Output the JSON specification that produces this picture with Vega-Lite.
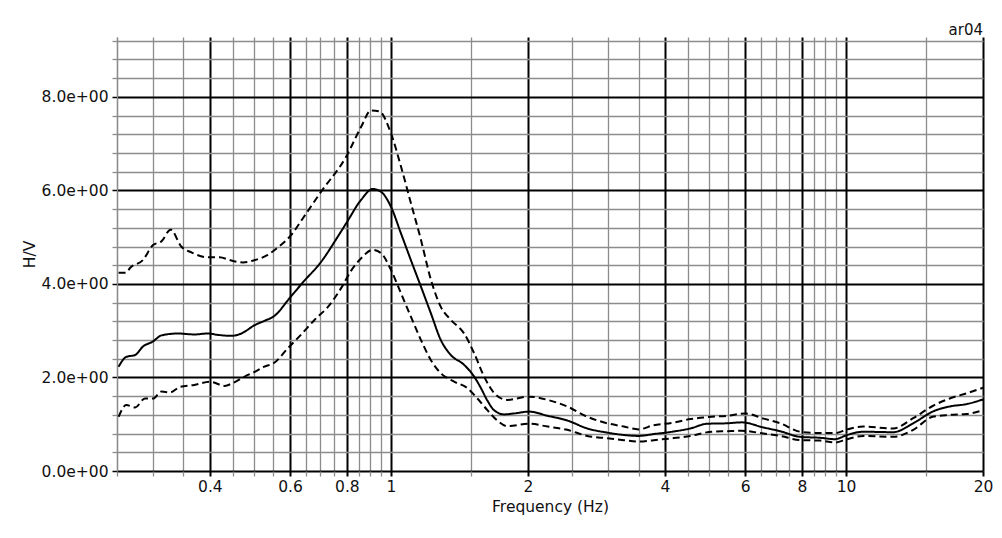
{
  "$schema": "https://vega.github.io/schema/vega-lite/v6.json",
  "width": 866,
  "height": 434,
  "autosize": {"type": "none"},
  "padding": {"left": 117, "top": 37, "right": 19, "bottom": 67},
  "background": "white",
  "title": {"text": "ar04", "anchor": "end", "frame": "group", "fontSize": 15, "fontWeight": "normal", "font": "DejaVu Sans", "color": "#111111", "baseline": "alphabetic", "offset": 2, "dy": 18},
  "config": {
    "view": {"stroke": null},
    "axis": {"labelFont": "DejaVu Sans", "titleFont": "DejaVu Sans", "labelFontSize": 15.5, "titleFontSize": 15.5, "titleFontWeight": "normal", "labelColor": "#111111", "titleColor": "#111111"}
  },
  "data": {"values": [
    {"s": "mean", "f": 0.252, "v": 2.23}, {"s": "mean", "f": 0.262, "v": 2.44}, {"s": "mean", "f": 0.274, "v": 2.48}, {"s": "mean", "f": 0.285, "v": 2.66},
    {"s": "mean", "f": 0.300, "v": 2.77}, {"s": "mean", "f": 0.313, "v": 2.90}, {"s": "mean", "f": 0.340, "v": 2.94}, {"s": "mean", "f": 0.370, "v": 2.92},
    {"s": "mean", "f": 0.396, "v": 2.94}, {"s": "mean", "f": 0.417, "v": 2.91}, {"s": "mean", "f": 0.446, "v": 2.89}, {"s": "mean", "f": 0.469, "v": 2.94},
    {"s": "mean", "f": 0.502, "v": 3.12}, {"s": "mean", "f": 0.527, "v": 3.21}, {"s": "mean", "f": 0.555, "v": 3.32}, {"s": "mean", "f": 0.598, "v": 3.69},
    {"s": "mean", "f": 0.640, "v": 4.03}, {"s": "mean", "f": 0.702, "v": 4.47}, {"s": "mean", "f": 0.764, "v": 5.01}, {"s": "mean", "f": 0.800, "v": 5.32},
    {"s": "mean", "f": 0.860, "v": 5.80}, {"s": "mean", "f": 0.912, "v": 6.03}, {"s": "mean", "f": 0.951, "v": 5.97}, {"s": "mean", "f": 1.000, "v": 5.65},
    {"s": "mean", "f": 1.052, "v": 5.08}, {"s": "mean", "f": 1.106, "v": 4.51}, {"s": "mean", "f": 1.164, "v": 3.94}, {"s": "mean", "f": 1.224, "v": 3.37},
    {"s": "mean", "f": 1.287, "v": 2.80}, {"s": "mean", "f": 1.354, "v": 2.48}, {"s": "mean", "f": 1.448, "v": 2.27}, {"s": "mean", "f": 1.523, "v": 2.02},
    {"s": "mean", "f": 1.575, "v": 1.78}, {"s": "mean", "f": 1.630, "v": 1.50}, {"s": "mean", "f": 1.685, "v": 1.30}, {"s": "mean", "f": 1.772, "v": 1.21},
    {"s": "mean", "f": 1.863, "v": 1.23}, {"s": "mean", "f": 2.01, "v": 1.27}, {"s": "mean", "f": 2.21, "v": 1.18}, {"s": "mean", "f": 2.44, "v": 1.08},
    {"s": "mean", "f": 2.70, "v": 0.91}, {"s": "mean", "f": 2.99, "v": 0.82}, {"s": "mean", "f": 3.25, "v": 0.77}, {"s": "mean", "f": 3.50, "v": 0.75},
    {"s": "mean", "f": 3.78, "v": 0.79}, {"s": "mean", "f": 4.15, "v": 0.84}, {"s": "mean", "f": 4.55, "v": 0.91}, {"s": "mean", "f": 4.95, "v": 1.01},
    {"s": "mean", "f": 5.47, "v": 1.02}, {"s": "mean", "f": 5.90, "v": 1.04}, {"s": "mean", "f": 6.59, "v": 0.93}, {"s": "mean", "f": 7.17, "v": 0.85},
    {"s": "mean", "f": 7.93, "v": 0.73}, {"s": "mean", "f": 8.77, "v": 0.71}, {"s": "mean", "f": 9.45, "v": 0.68}, {"s": "mean", "f": 10.06, "v": 0.77},
    {"s": "mean", "f": 10.9, "v": 0.84}, {"s": "mean", "f": 12.7, "v": 0.83}, {"s": "mean", "f": 14.05, "v": 1.02}, {"s": "mean", "f": 15.5, "v": 1.27},
    {"s": "mean", "f": 16.9, "v": 1.38}, {"s": "mean", "f": 18.4, "v": 1.43}, {"s": "mean", "f": 20, "v": 1.53},

    {"s": "upper", "f": 0.252, "v": 4.24}, {"s": "upper", "f": 0.262, "v": 4.24}, {"s": "upper", "f": 0.267, "v": 4.34}, {"s": "upper", "f": 0.285, "v": 4.51},
    {"s": "upper", "f": 0.300, "v": 4.83}, {"s": "upper", "f": 0.313, "v": 4.91}, {"s": "upper", "f": 0.328, "v": 5.16}, {"s": "upper", "f": 0.346, "v": 4.80},
    {"s": "upper", "f": 0.365, "v": 4.67}, {"s": "upper", "f": 0.396, "v": 4.57}, {"s": "upper", "f": 0.420, "v": 4.57}, {"s": "upper", "f": 0.446, "v": 4.50},
    {"s": "upper", "f": 0.473, "v": 4.46}, {"s": "upper", "f": 0.502, "v": 4.51}, {"s": "upper", "f": 0.536, "v": 4.62}, {"s": "upper", "f": 0.564, "v": 4.78},
    {"s": "upper", "f": 0.604, "v": 5.05}, {"s": "upper", "f": 0.640, "v": 5.40}, {"s": "upper", "f": 0.702, "v": 5.97}, {"s": "upper", "f": 0.797, "v": 6.72},
    {"s": "upper", "f": 0.860, "v": 7.36}, {"s": "upper", "f": 0.904, "v": 7.71}, {"s": "upper", "f": 0.943, "v": 7.69}, {"s": "upper", "f": 1.000, "v": 7.22},
    {"s": "upper", "f": 1.052, "v": 6.51}, {"s": "upper", "f": 1.106, "v": 5.73}, {"s": "upper", "f": 1.164, "v": 4.94}, {"s": "upper", "f": 1.224, "v": 4.09},
    {"s": "upper", "f": 1.287, "v": 3.51}, {"s": "upper", "f": 1.354, "v": 3.23}, {"s": "upper", "f": 1.448, "v": 2.94}, {"s": "upper", "f": 1.523, "v": 2.52},
    {"s": "upper", "f": 1.602, "v": 2.02}, {"s": "upper", "f": 1.685, "v": 1.67}, {"s": "upper", "f": 1.80, "v": 1.52}, {"s": "upper", "f": 2.01, "v": 1.59},
    {"s": "upper", "f": 2.21, "v": 1.52}, {"s": "upper", "f": 2.44, "v": 1.38}, {"s": "upper", "f": 2.70, "v": 1.16}, {"s": "upper", "f": 2.99, "v": 1.02},
    {"s": "upper", "f": 3.25, "v": 0.95}, {"s": "upper", "f": 3.50, "v": 0.89}, {"s": "upper", "f": 3.78, "v": 0.98}, {"s": "upper", "f": 4.15, "v": 1.03},
    {"s": "upper", "f": 4.55, "v": 1.11}, {"s": "upper", "f": 5.07, "v": 1.16}, {"s": "upper", "f": 5.47, "v": 1.18}, {"s": "upper", "f": 6.0, "v": 1.23},
    {"s": "upper", "f": 6.59, "v": 1.12}, {"s": "upper", "f": 7.17, "v": 1.02}, {"s": "upper", "f": 7.93, "v": 0.84}, {"s": "upper", "f": 8.77, "v": 0.81},
    {"s": "upper", "f": 9.45, "v": 0.81}, {"s": "upper", "f": 10.06, "v": 0.89}, {"s": "upper", "f": 10.9, "v": 0.95}, {"s": "upper", "f": 12.7, "v": 0.91},
    {"s": "upper", "f": 14.05, "v": 1.13}, {"s": "upper", "f": 15.5, "v": 1.39}, {"s": "upper", "f": 16.9, "v": 1.55}, {"s": "upper", "f": 18.4, "v": 1.66},
    {"s": "upper", "f": 20, "v": 1.78},

    {"s": "lower", "f": 0.252, "v": 1.16}, {"s": "lower", "f": 0.262, "v": 1.41}, {"s": "lower", "f": 0.274, "v": 1.36}, {"s": "lower", "f": 0.288, "v": 1.55},
    {"s": "lower", "f": 0.300, "v": 1.55}, {"s": "lower", "f": 0.313, "v": 1.70}, {"s": "lower", "f": 0.327, "v": 1.68}, {"s": "lower", "f": 0.344, "v": 1.80},
    {"s": "lower", "f": 0.370, "v": 1.84}, {"s": "lower", "f": 0.400, "v": 1.91}, {"s": "lower", "f": 0.431, "v": 1.82}, {"s": "lower", "f": 0.449, "v": 1.88},
    {"s": "lower", "f": 0.477, "v": 2.02}, {"s": "lower", "f": 0.502, "v": 2.12}, {"s": "lower", "f": 0.527, "v": 2.23}, {"s": "lower", "f": 0.555, "v": 2.32},
    {"s": "lower", "f": 0.593, "v": 2.62}, {"s": "lower", "f": 0.635, "v": 2.92}, {"s": "lower", "f": 0.679, "v": 3.23}, {"s": "lower", "f": 0.727, "v": 3.51},
    {"s": "lower", "f": 0.777, "v": 3.91}, {"s": "lower", "f": 0.817, "v": 4.28}, {"s": "lower", "f": 0.860, "v": 4.55}, {"s": "lower", "f": 0.912, "v": 4.73},
    {"s": "lower", "f": 0.951, "v": 4.66}, {"s": "lower", "f": 1.000, "v": 4.30}, {"s": "lower", "f": 1.052, "v": 3.80}, {"s": "lower", "f": 1.106, "v": 3.30},
    {"s": "lower", "f": 1.164, "v": 2.80}, {"s": "lower", "f": 1.224, "v": 2.37}, {"s": "lower", "f": 1.287, "v": 2.09}, {"s": "lower", "f": 1.377, "v": 1.91},
    {"s": "lower", "f": 1.473, "v": 1.77}, {"s": "lower", "f": 1.549, "v": 1.55}, {"s": "lower", "f": 1.629, "v": 1.30}, {"s": "lower", "f": 1.713, "v": 1.08},
    {"s": "lower", "f": 1.80, "v": 0.96}, {"s": "lower", "f": 2.01, "v": 1.01}, {"s": "lower", "f": 2.21, "v": 0.95}, {"s": "lower", "f": 2.44, "v": 0.88},
    {"s": "lower", "f": 2.70, "v": 0.75}, {"s": "lower", "f": 2.99, "v": 0.70}, {"s": "lower", "f": 3.25, "v": 0.66}, {"s": "lower", "f": 3.50, "v": 0.63},
    {"s": "lower", "f": 3.78, "v": 0.66}, {"s": "lower", "f": 4.15, "v": 0.70}, {"s": "lower", "f": 4.55, "v": 0.75}, {"s": "lower", "f": 5.07, "v": 0.84},
    {"s": "lower", "f": 5.47, "v": 0.85}, {"s": "lower", "f": 5.90, "v": 0.86}, {"s": "lower", "f": 6.59, "v": 0.80}, {"s": "lower", "f": 7.17, "v": 0.75},
    {"s": "lower", "f": 7.93, "v": 0.66}, {"s": "lower", "f": 8.77, "v": 0.65}, {"s": "lower", "f": 9.45, "v": 0.61}, {"s": "lower", "f": 10.06, "v": 0.68},
    {"s": "lower", "f": 10.9, "v": 0.75}, {"s": "lower", "f": 12.7, "v": 0.73}, {"s": "lower", "f": 14.05, "v": 0.88}, {"s": "lower", "f": 15.5, "v": 1.16},
    {"s": "lower", "f": 16.9, "v": 1.20}, {"s": "lower", "f": 18.4, "v": 1.22}, {"s": "lower", "f": 20, "v": 1.30}
  ]},
  "mark": {"type": "line", "interpolate": "monotone", "color": "black", "strokeWidth": 2},
  "encoding": {
    "x": {
      "field": "f", "type": "quantitative",
      "scale": {"type": "log", "domain": [0.25, 20], "nice": false},
      "axis": {
        "title": "Frequency (Hz)",
        "values": [0.25, 0.3, 0.35, 0.4, 0.45, 0.5, 0.55, 0.6, 0.65, 0.7, 0.75, 0.8, 0.85, 0.9, 0.95, 1, 1.5, 2, 2.5, 3, 3.5, 4, 4.5, 5, 5.5, 6, 6.5, 7, 7.5, 8, 8.5, 9, 9.5, 10, 15, 20],
        "labelExpr": "indexof([0.4,0.6,0.8,1,2,4,6,8,10,20], datum.value) >= 0 ? format(datum.value, '~g') : ''",
        "labelOverlap": false,
        "labelFlush": false,
        "labelPadding": 3,
        "titlePadding": 5,
        "domain": false,
        "grid": true,
        "gridColor": {"condition": {"test": "indexof([0.4,0.6,0.8,1,2,4,6,8,10,20], datum.value) >= 0", "value": "#000000"}, "value": "#8c8c8c"},
        "gridWidth": {"condition": {"test": "indexof([0.4,0.6,0.8,1,2,4,6,8,10,20], datum.value) >= 0", "value": 2}, "value": 1.3},
        "tickColor": {"condition": {"test": "indexof([0.4,0.6,0.8,1,2,4,6,8,10,20], datum.value) >= 0", "value": "#000000"}, "value": "#8c8c8c"},
        "tickWidth": {"condition": {"test": "indexof([0.4,0.6,0.8,1,2,4,6,8,10,20], datum.value) >= 0", "value": 2}, "value": 1.3},
        "tickSize": 5
      }
    },
    "y": {
      "field": "v", "type": "quantitative",
      "scale": {"domain": [0, 9.28], "nice": false, "zero": false},
      "axis": {
        "title": "H/V",
        "values": [0, 0.4, 0.8, 1.2, 1.6, 2, 2.4, 2.8, 3.2, 3.6, 4, 4.4, 4.8, 5.2, 5.6, 6, 6.4, 6.8, 7.2, 7.6, 8, 8.4, 8.8, 9.2],
        "labelExpr": "datum.value % 2 == 0 ? format(datum.value, '.1f') + 'e+00' : ''",
        "labelOverlap": false,
        "labelPadding": 4,
        "titlePadding": 4,
        "domain": true,
        "domainColor": "#8c8c8c",
        "domainWidth": 1.3,
        "grid": true,
        "gridColor": {"condition": {"test": "datum.value % 2 == 0", "value": "#000000"}, "value": "#8c8c8c"},
        "gridWidth": {"condition": {"test": "datum.value % 2 == 0", "value": 2}, "value": 1.3},
        "tickColor": {"condition": {"test": "datum.value % 2 == 0", "value": "#000000"}, "value": "#8c8c8c"},
        "tickWidth": {"condition": {"test": "datum.value % 2 == 0", "value": 1.5}, "value": 1.3},
        "tickSize": 5
      }
    },
    "strokeDash": {
      "field": "s", "type": "nominal",
      "scale": {"domain": ["mean", "upper", "lower"], "range": [[1, 0], [7, 4], [7, 4]]},
      "legend": null
    }
  }
}
